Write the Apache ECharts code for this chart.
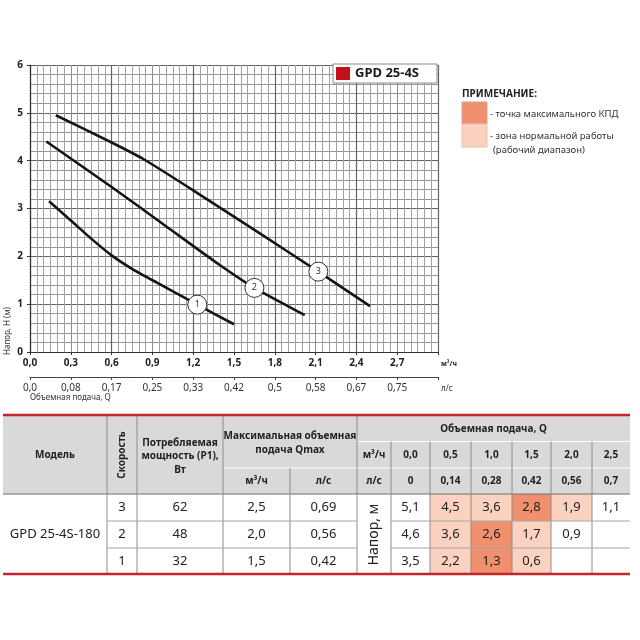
<!DOCTYPE html>
<html>
<head>
<meta charset="utf-8">
<script src="https://cdn.jsdelivr.net/npm/echarts@6/dist/echarts.min.js"></script>
<style>
  html, body { margin: 0; padding: 0; background: #fff; }
  #main { width: 640px; height: 640px; }
</style>
</head>
<body>
<div id="main"></div>
<script>
// pump curves: [Q m3/h, H m]
var curve1 = [[0.14, 3.15], [0.3, 2.75], [0.45, 2.37], [0.6, 2.02], [0.75, 1.74], [0.94, 1.44], [1.23, 0.99], [1.5, 0.58]];
var curve2 = [[0.12, 4.40], [0.6, 3.45], [1.0, 2.63], [1.39, 1.83], [1.65, 1.34], [2.02, 0.77]];
var curve3 = [[0.19, 4.95], [0.6, 4.38], [0.83, 4.04], [1.2, 3.38], [1.69, 2.48], [2.12, 1.68], [2.5, 0.96]];
var curveTags = [[1.23, 0.99], [1.65, 1.34], [2.12, 1.68]];
var curveNames = ['1', '2', '3'];

// second scale under the chart, l/s
var lsTicks = ['0,0', '0,08', '0,17', '0,25', '0,33', '0,42', '0,5', '0,58', '0,67', '0,75'];

// table
var modelName = 'GPD 25-4S-180';
var flowM3h = [0.0, 0.5, 1.0, 1.5, 2.0, 2.5];
var flowLs = [0, 0.14, 0.28, 0.42, 0.56, 0.7];
var speeds = [3, 2, 1];
var powerW = [62, 48, 32];
var qmaxM3h = [2.5, 2.0, 1.5];
var qmaxLs = [0.69, 0.56, 0.42];
var headSpeed3 = [5.1, 4.5, 3.6, 2.8, 1.9, 1.1];
var headSpeed2 = [4.6, 3.6, 2.6, 1.7, 0.9, null];
var headSpeed1 = [3.5, 2.2, 1.3, 0.6, null, null];
// 0 - plain, 1 - working range, 2 - max efficiency point
var zoneSpeed3 = [0, 1, 1, 2, 1, 0];
var zoneSpeed2 = [0, 1, 2, 1, 0, 0];
var zoneSpeed1 = [0, 1, 2, 1, 0, 0];

var FONT = '"Noto Sans", "Open Sans", sans-serif';
var RED = '#c4262e';
var ZONE_COLORS = ['#ffffff', '#fbd1bf', '#f0906f'];

function comma(v, d) {
	if (v === null || v === undefined) return '';
	return (d === undefined ? String(v) : v.toFixed(d)).replace('.', ',');
}

function txt(x, y, text, o) {
	o = o || {};
	return {
		type: 'text', x: x, y: y, rotation: o.rot || 0, silent: true, z: 10,
		style: {
			text: text, x: 0, y: 0,
			fill: o.color || '#222',
			fontSize: o.size || 10,
			fontWeight: o.bold ? 'bold' : 'normal',
			fontFamily: FONT,
			align: o.align || 'center',
			verticalAlign: 'middle'
		}
	};
}
function rect(x, y, w, h, fill, stroke) {
	return { type: 'rect', silent: true, z: 5, shape: { x: x, y: y, width: w, height: h },
		style: { fill: fill, stroke: stroke || null, lineWidth: 1 } };
}
function line(x1, y1, x2, y2, color, width) {
	return { type: 'line', silent: true, z: 6, shape: { x1: x1, y1: y1, x2: x2, y2: y2 },
		style: { stroke: color, lineWidth: width || 1 } };
}

var graphics = [];

// model box inside the plot
graphics.push(rect(333, 64, 104, 19, '#fff', '#8a8a8a'));
graphics.push(rect(336, 67, 14, 13, '#c1121c'));
graphics.push(txt(355, 73.5, 'GPD 25-4S', { size: 13, bold: true, align: 'left', color: '#1a1a1a' }));

// axis captions
graphics.push(txt(8, 331, 'Напор, H (м)', { size: 8, rot: Math.PI / 2, color: '#333' }));
graphics.push(txt(30, 398, 'Объемная подача, Q', { size: 8, align: 'left', color: '#333' }));

// note
graphics.push(txt(462, 94, 'ПРИМЕЧАНИЕ:', { size: 10, bold: true, align: 'left' }));
graphics.push(rect(462, 102, 25, 22, ZONE_COLORS[2], '#d9a090'));
graphics.push(rect(462, 124, 25, 23, ZONE_COLORS[1], '#e6c2b4'));
graphics.push(txt(490, 114, '- точка максимального КПД', { size: 9.5, align: 'left', color: '#333' }));
graphics.push(txt(490, 136, '- зона нормальной работы', { size: 9.5, align: 'left', color: '#333' }));
graphics.push(txt(493, 150, '(рабочий диапазон)', { size: 9.5, align: 'left', color: '#333' }));

// table layout
var cols = [3, 107, 137, 223, 290, 357, 391, 430, 471, 512, 551, 592, 630];
var hTop = 415, hA = 441.5, hB = 468, hBot = 494;
var rowY = [494, 521, 548, 574];
var heads = [headSpeed3, headSpeed2, headSpeed1];
var zones = [zoneSpeed3, zoneSpeed2, zoneSpeed1];

function cx(i) { return (cols[i] + cols[i + 1]) / 2; }

graphics.push(rect(cols[0], hTop, cols[12] - cols[0], hBot - hTop, '#d9d9d9'));
for (var r = 0; r < 3; r++) {
	for (var c = 0; c < 6; c++) {
		var z = zones[r][c];
		if (z) graphics.push(rect(cols[6 + c], rowY[r], cols[7 + c] - cols[6 + c], rowY[r + 1] - rowY[r], ZONE_COLORS[z]));
	}
}
// header inner lines
graphics.push(line(cols[3], hB, cols[5], hB, '#ffffff', 1));
graphics.push(line(cols[5], hA, cols[12], hA, '#ffffff', 1));
graphics.push(line(cols[5], hB, cols[12], hB, '#ffffff', 1));
graphics.push(line(cols[0], hBot, cols[12], hBot, '#6e6e6e', 1));
for (var i = 1; i < 12; i++) {
	var yStart = hTop;
	if (i === 4) yStart = hB;
	if (i > 5) yStart = hA;
	graphics.push(line(cols[i], yStart, cols[i], hBot, '#8c8c8c', 1));
	graphics.push(line(cols[i], hBot, cols[i], rowY[3], '#8c8c8c', 1));
}
for (var r2 = 1; r2 < 3; r2++) {
	graphics.push(line(cols[1], rowY[r2], cols[5], rowY[r2], '#a6a6a6', 1));
	graphics.push(line(cols[6], rowY[r2], cols[12], rowY[r2], '#a6a6a6', 1));
}
graphics.push(line(cols[0], hTop, cols[12], hTop, RED, 2.5));
graphics.push(line(cols[0], rowY[3], cols[12], rowY[3], RED, 2.5));

// header texts
graphics.push(txt(cx(0), 455, 'Модель', { bold: true }));
graphics.push(txt(cx(1), 455, 'Скорость', { bold: true, rot: Math.PI / 2 }));
graphics.push(txt(cx(2), 443, 'Потребляемая', { bold: true }));
graphics.push(txt(cx(2), 456.5, 'мощность (P1),', { bold: true }));
graphics.push(txt(cx(2), 470, 'Вт', { bold: true }));
graphics.push(txt((cols[3] + cols[5]) / 2, 436, 'Максимальная объемная', { bold: true }));
graphics.push(txt((cols[3] + cols[5]) / 2, 450, 'подача Qmax', { bold: true }));
graphics.push(txt(cx(3), 481.5, 'м³/ч', { bold: true }));
graphics.push(txt(cx(4), 481.5, 'л/с', { bold: true }));
graphics.push(txt((cols[5] + cols[12]) / 2, 429, 'Объемная подача, Q', { bold: true }));
graphics.push(txt(cx(5), 455, 'м³/ч', { bold: true }));
graphics.push(txt(cx(5), 481.5, 'л/с', { bold: true }));
for (var k = 0; k < flowM3h.length; k++) {
	graphics.push(txt(cx(6 + k), 455, comma(flowM3h[k], 1), { bold: true }));
	graphics.push(txt(cx(6 + k), 481.5, comma(flowLs[k]), { bold: true }));
}

// body texts
graphics.push(txt(cx(0), 534.5, modelName, { size: 13 }));
graphics.push(txt(cx(5), 534.5, 'Напор, м', { size: 14, rot: Math.PI / 2 }));
for (var b = 0; b < 3; b++) {
	var yc = (rowY[b] + rowY[b + 1]) / 2;
	graphics.push(txt(cx(1), yc, String(speeds[b]), { size: 13 }));
	graphics.push(txt(cx(2), yc, String(powerW[b]), { size: 13 }));
	graphics.push(txt(cx(3), yc, comma(qmaxM3h[b], 1), { size: 13 }));
	graphics.push(txt(cx(4), yc, comma(qmaxLs[b], 2), { size: 13 }));
	for (var q = 0; q < 6; q++) {
		if (heads[b][q] !== null) graphics.push(txt(cx(6 + q), yc, comma(heads[b][q], 1), { size: 13 }));
	}
}

var chart = echarts.init(document.getElementById('main'));

var curveStyle = { color: '#151515', width: 2.6 };

chart.setOption({
	animation: false,
	grid: { left: 30, right: 202, top: 65, bottom: 288, containLabel: false },
	xAxis: [
		{
			type: 'value', min: 0, max: 3, interval: 0.3, position: 'bottom',
			name: 'м³/ч', nameLocation: 'end', nameGap: 3,
			nameTextStyle: { fontSize: 7, fontWeight: 'bold', color: '#222', fontFamily: FONT, verticalAlign: 'top', padding: [8, 0, 0, 0] },
			axisLine: { show: true, onZero: false, lineStyle: { color: '#333', width: 1.2 } },
			axisTick: { show: true, length: 3, lineStyle: { color: '#333' } },
			axisLabel: {
				margin: 6, fontSize: 10, fontWeight: 'bold', color: '#222', fontFamily: FONT,
				formatter: function (v) { return v >= 2.95 ? '' : v.toFixed(1).replace('.', ','); }
			},
			splitLine: { show: true, lineStyle: { color: '#8e8e8e', width: 1 } },
			minorTick: { show: false, splitNumber: 6 },
			minorSplitLine: { show: true, lineStyle: { color: '#a2a2a2', width: 1 } }
		},
		{
			type: 'value', min: 0, max: 3, interval: 0.3, position: 'bottom', offset: 25,
			name: 'л/с', nameLocation: 'end', nameGap: 3,
			nameTextStyle: { fontSize: 8, color: '#333', fontFamily: FONT, verticalAlign: 'top', padding: [8, 0, 0, 0] },
			axisLine: { show: true, onZero: false, lineStyle: { color: '#444', width: 1 } },
			axisTick: { show: true, length: 3, lineStyle: { color: '#444' } },
			axisLabel: {
				margin: 6, fontSize: 10, color: '#333', fontFamily: FONT,
				formatter: function (v) { return lsTicks[Math.round(v / 0.3)] || ''; }
			},
			splitLine: { show: false }
		},
		{
			type: 'value', min: 0, max: 3, interval: 0.6, position: 'bottom',
			axisLine: { show: false }, axisTick: { show: false }, axisLabel: { show: false },
			splitLine: { show: true, lineStyle: { color: '#646464', width: 1.2 } }
		}
	],
	yAxis: {
		type: 'value', min: 0, max: 6, interval: 1,
		axisLine: { show: true, lineStyle: { color: '#333', width: 1.2 } },
		axisTick: { show: true, length: 3, lineStyle: { color: '#333' } },
		axisLabel: { margin: 7, fontSize: 10, fontWeight: 'bold', color: '#222', fontFamily: FONT },
		splitLine: { show: true, lineStyle: { color: '#646464', width: 1.2 } },
		minorTick: { show: false, splitNumber: 5 },
		minorSplitLine: { show: true, lineStyle: { color: '#979797', width: 1 } }
	},
	series: [
		{ type: 'line', data: curve1, smooth: 0.2, symbol: 'none', lineStyle: curveStyle, z: 3 },
		{ type: 'line', data: curve2, smooth: 0.2, symbol: 'none', lineStyle: curveStyle, z: 3 },
		{ type: 'line', data: curve3, smooth: 0.2, symbol: 'none', lineStyle: curveStyle, z: 3 },
		{
			type: 'scatter', data: curveTags, symbol: 'circle', symbolSize: 19, z: 4,
			itemStyle: { color: '#fff', borderColor: '#333', borderWidth: 1, opacity: 1 },
			label: {
				show: true, position: 'inside', color: '#333', fontSize: 9, fontFamily: FONT,
				formatter: function (p) { return curveNames[p.dataIndex]; }
			}
		}
	],
	graphic: graphics
});
</script>
</body>
</html>
